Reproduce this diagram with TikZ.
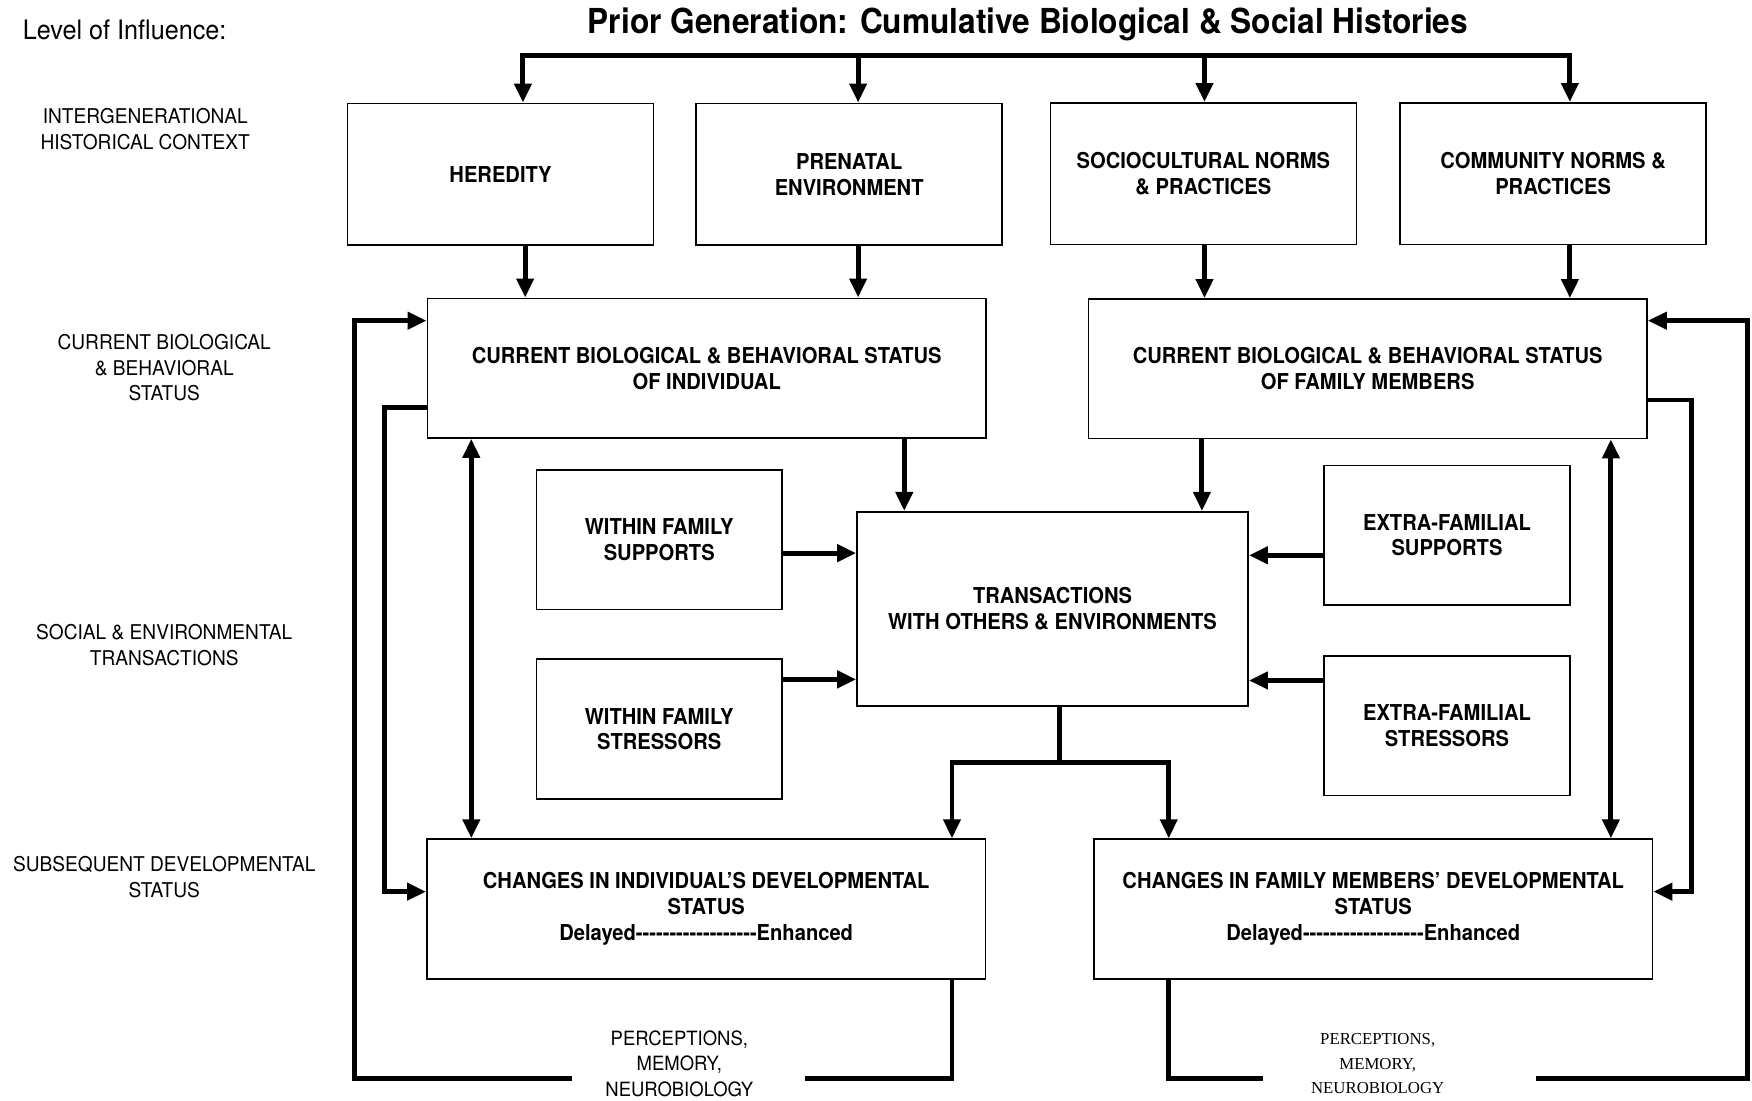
\documentclass[tikz,border=0pt]{standalone}
\usepackage{fontspec}
\setmainfont{TeX Gyre Heros}[Ligatures=TeXOff]
\newfontfamily\percserif{Liberation Serif}
\newfontfamily\boxfam{TeX Gyre Heros}[FakeStretch=0.92,Ligatures=TeXOff]
\newfontfamily\lvlfam{TeX Gyre Heros}[FakeStretch=0.94,Ligatures=TeXOff]
\usetikzlibrary{positioning,arrows.meta,calc}

\newcommand\boxtxt{\boxfam\fontsize{9.8}{11.5}\selectfont\bfseries}
\newcommand\lvltxt{\lvlfam\fontsize{9.1}{11.5}\selectfont}
\newcommand\titletxt{\boxfam\fontsize{15.4}{16}\selectfont\bfseries}
\newcommand\perctxt{\percserif\fontsize{7.5}{11}\selectfont}

\begin{document}
\begin{tikzpicture}
	[x=0.5pt,y=-0.5pt,
	box/.style={rectangle,draw,line width=0.7pt,align=center,font=\boxtxt,inner sep=1pt},
	topbox/.style={box,minimum width=137pt,minimum height=63.5pt},
	widebox/.style={box,minimum width=250pt,minimum height=62.5pt},
	sidebox/.style={box,minimum width=110pt,minimum height=62.5pt},
	level/.style={align=center,font=\lvltxt,inner sep=0pt},
	link/.style={line width=2.2pt},
	arr/.style={link,-{Triangle[length=8.5pt,width=7.5pt]}},
	dblarr/.style={link,{Triangle[length=8.5pt,width=7.5pt]}-{Triangle[length=8.5pt,width=7.5pt]}}]
	\useasboundingbox (0,0) rectangle (1568,985);
	% headings
	\node (title) at (920,22) {\titletxt Prior Generation: Cumulative Biological \& Social Histories};
	\node[anchor=west,inner sep=0pt,font=\lvlfam\fontsize{12}{13}\selectfont] (levels) at (20,27) {Level of Influence:};
	\node[level] (lvl1) at (130,115.5) {INTERGENERATIONAL\\HISTORICAL CONTEXT};
	\node[level] (lvl2) at (147,329) {CURRENT BIOLOGICAL\\\& BEHAVIORAL\\STATUS};
	\node[level] (lvl3) at (147,577.5) {SOCIAL \& ENVIRONMENTAL\\TRANSACTIONS};
	\node[level] (lvl4) at (147,785) {SUBSEQUENT DEVELOPMENTAL\\STATUS};
	% boxes
	\node[topbox] (heredity) at (448,156) {HEREDITY};
	\node[topbox] (prenatal) at (760,156) {PRENATAL\\ENVIRONMENT};
	\node[topbox] (socio) at (1077,155.5) {SOCIOCULTURAL NORMS\\\& PRACTICES};
	\node[topbox] (community) at (1390,155.5) {COMMUNITY NORMS \&\\PRACTICES};
	\node[widebox] (cbi) at (632.5,329.5) {CURRENT BIOLOGICAL \& BEHAVIORAL STATUS\\OF INDIVIDUAL};
	\node[widebox] (cbf) at (1224,330) {CURRENT BIOLOGICAL \& BEHAVIORAL STATUS\\OF FAMILY MEMBERS};
	\node[box,minimum width=175pt,minimum height=87pt] (trans) at (942,545) {TRANSACTIONS\\WITH OTHERS \& ENVIRONMENTS};
	\node[sidebox] (wfs) at (590,483) {WITHIN FAMILY\\SUPPORTS};
	\node[sidebox] (wfstr) at (590,652.5) {WITHIN FAMILY\\STRESSORS};
	\node[sidebox] (efs) at (1295,479) {EXTRA-FAMILIAL\\SUPPORTS};
	\node[sidebox] (efstr) at (1295,649.5) {EXTRA-FAMILIAL\\STRESSORS};
	\node[widebox] (cind) at (632,813.5) {CHANGES IN INDIVIDUAL’S DEVELOPMENTAL\\STATUS\\Delayed------------------Enhanced};
	\node[widebox] (cfam) at (1229,813.5) {CHANGES IN FAMILY MEMBERS’ DEVELOPMENTAL\\STATUS\\Delayed------------------Enhanced};
	\node[level,font=\lvlfam\fontsize{8.8}{11.5}\selectfont] (percL) at (608,952) {PERCEPTIONS,\\MEMORY,\\NEUROBIOLOGY};
	\node[align=center,inner sep=0pt,font=\perctxt] (percR) at (1233,952) {PERCEPTIONS,\\MEMORY,\\NEUROBIOLOGY};
	% prior generation
	\coordinate (bus) at (937,50);
	\coordinate (hIn) at ($(heredity.north)+(20,0)$);
	\coordinate (pIn) at ($(prenatal.north)+(8,0)$);
	\coordinate (sIn) at ($(socio.north)+(1,0)$);
	\coordinate (cIn) at ($(community.north)+(15,0)$);
	\draw[arr] (bus) -| (hIn);
	\draw[arr] (bus) -| (cIn);
	\draw[arr] (bus -| pIn) -- (pIn);
	\draw[arr] (bus -| sIn) -- (sIn);
	% into current status
	\coordinate (hOut) at ($(heredity.south)+(22,0)$);
	\coordinate (pOut) at ($(prenatal.south)+(8,0)$);
	\coordinate (sOut) at ($(socio.south)+(1,0)$);
	\coordinate (cOut) at ($(community.south)+(15,0)$);
	\draw[arr] (hOut) -- (hOut |- cbi.north);
	\draw[arr] (pOut) -- (pOut |- cbi.north);
	\draw[arr] (sOut) -- (sOut |- cbf.north);
	\draw[arr] (cOut) -- (cOut |- cbf.north);
	% transactions
	\coordinate (tIn1) at ($(trans.north west)+(43,0)$);
	\coordinate (tIn2) at ($(trans.north east)+(-42,0)$);
	\draw[arr] (tIn1 |- cbi.south) -- (tIn1);
	\draw[arr] (tIn2 |- cbf.south) -- (tIn2);
	\coordinate (wsOut) at ($(wfs.east)+(0,12)$);
	\coordinate (wtOut) at ($(wfstr.east)+(0,-44.5)$);
	\coordinate (esOut) at ($(efs.west)+(0,18)$);
	\coordinate (etOut) at ($(efstr.west)+(0,-40.5)$);
	\draw[arr] (wsOut) -- (wsOut -| trans.west);
	\draw[arr] (wtOut) -- (wtOut -| trans.west);
	\draw[arr] (esOut) -- (esOut -| trans.east);
	\draw[arr] (etOut) -- (etOut -| trans.east);
	% changes
	\coordinate (split) at ($(trans.south)+(6,50)$);
	\coordinate (ciIn) at ($(cind.north)+(220,0)$);
	\coordinate (cfIn) at ($(cfam.north)+(-183,0)$);
	\draw[link] (trans.south -| split) -- (split);
	\draw[arr] (split) -| (ciIn);
	\draw[arr] (split) -| (cfIn);
	\coordinate (dL) at ($(cbi.south west)+(40,0)$);
	\coordinate (dR) at ($(cbf.south east)+(-33,0)$);
	\draw[dblarr] (dL) -- (dL |- cind.north);
	\draw[dblarr] (dR) -- (dR |- cfam.north);
	% feedback loops
	\coordinate (liOut) at ($(cbi.west)+(0,35.5)$);
	\coordinate (liIn) at ($(cind.west)+(0,-15.5)$);
	\draw[arr] (liOut) -- ++(-38,0) |- (liIn);
	\coordinate (riOut) at ($(cbf.east)+(0,28)$);
	\coordinate (riIn) at ($(cfam.east)+(0,-15.5)$);
	\draw[arr] (riOut) -- ++(39,0) |- (riIn);
	\coordinate (loOut) at ($(cind.south)+(220,0)$);
	\coordinate (loIn) at ($(cbi.west)+(0,-42.5)$);
	\coordinate (gapL1) at (720,965);
	\coordinate (gapL2) at (512,965);
	\draw[link] (loOut) |- (gapL1);
	\draw[arr] (gapL2) -- ++(-195,0) |- (loIn);
	\coordinate (roOut) at ($(cfam.south)+(-183,0)$);
	\coordinate (roIn) at ($(cbf.east)+(0,-43)$);
	\coordinate (gapR1) at (1130,965);
	\coordinate (gapR2) at (1375,965);
	\draw[link] (roOut) |- (gapR1);
	\draw[arr] (gapR2) -- ++(189,0) |- (roIn);
\end{tikzpicture}
\end{document}
